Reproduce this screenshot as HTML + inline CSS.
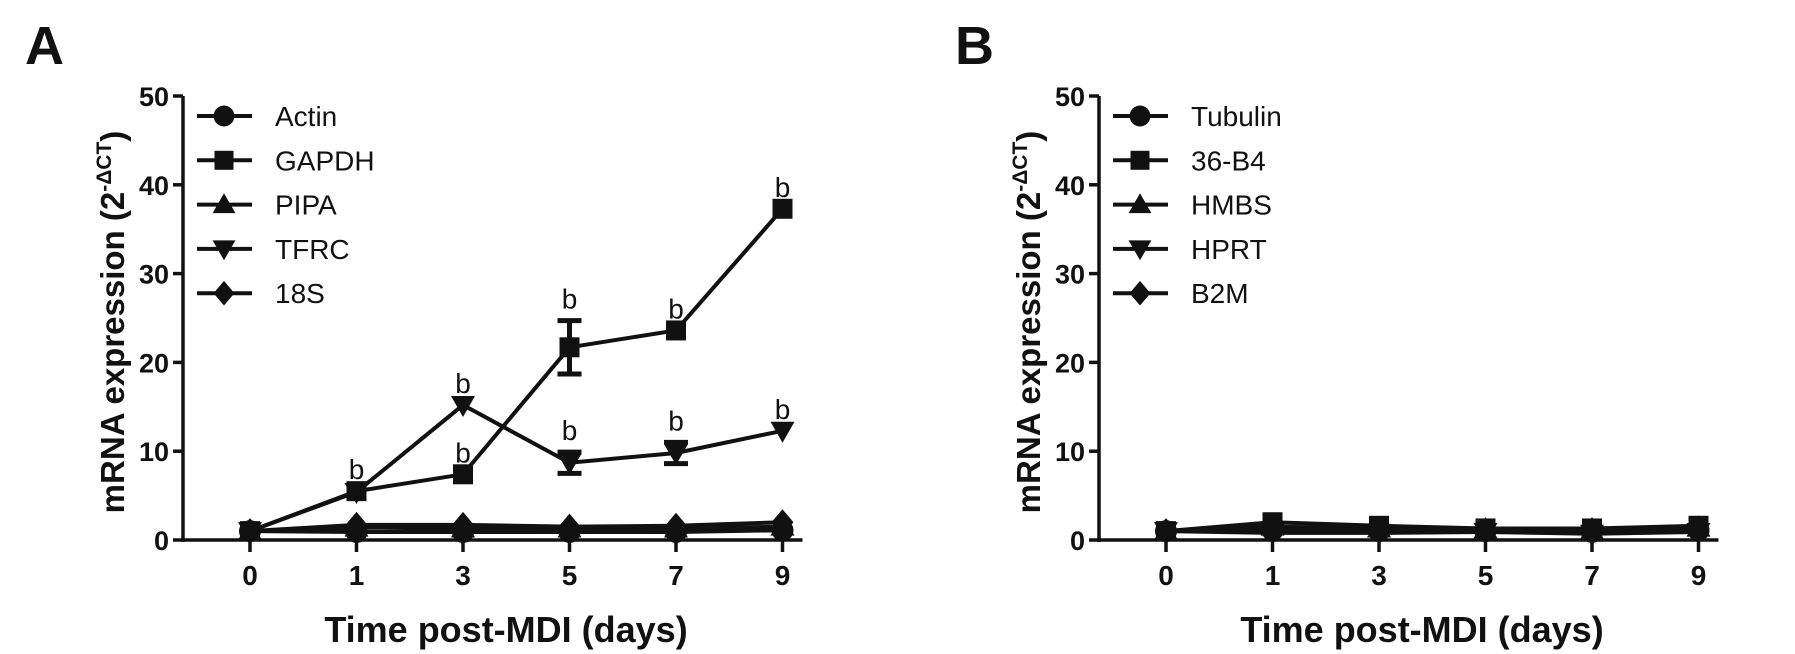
<!DOCTYPE html>
<html><head><meta charset="utf-8"><style>
body{margin:0;background:#fff}
svg{display:block;font-family:"Liberation Sans Narrow","Liberation Sans",Arial,sans-serif}
</style></head><body>
<svg id="fig" width="1795" height="654" viewBox="0 0 1795 654"></svg>
<script>
const days=[0,1,3,5,7,9];
const yTicks=[0,10,20,30,40,50];
const aNames=["Actin","GAPDH","PIPA","TFRC","18S"];
const aMarkers=["circle","square","triangle","down","diamond"];
const aActin=[1,0.9,0.9,0.9,0.9,1.1];
const aGapdh=[1,5.5,7.4,21.7,23.6,37.3];
const aGapdhErr=[0,0.3,0.3,3.0,0.5,0.5];
const aPipa=[1,1.4,1.3,1.3,1.3,1.5];
const aTfrc=[1,5.4,15.2,8.7,9.8,12.3];
const aTfrcErr=[0,0.2,0.3,1.2,1.2,0.4];
const a18s=[1,1.7,1.7,1.5,1.6,2.0];
const aGapdhSig=[0,1,1,1,1,1];
const aTfrcSig=[0,0,1,1,1,1];
const bNames=["Tubulin","36-B4","HMBS","HPRT","B2M"];
const bTubulin=[1,1.1,1.0,1.0,0.9,1.1];
const b36b4=[1,2.0,1.6,1.3,1.3,1.6];
const bHmbs=[1,1.5,1.3,1.2,1.1,1.4];
const bHprt=[1,0.8,0.8,0.9,0.7,0.9];
const bB2m=[1,1.2,1.2,1.1,1.1,1.3];

const NS="http://www.w3.org/2000/svg";
const svg=document.getElementById('fig');
function mk(tag,attrs,parent){const e=document.createElementNS(NS,tag);for(const k in attrs)e.setAttribute(k,attrs[k]);(parent||svg).appendChild(e);return e;}
function marker(g,type,x,y,s){
  let e;
  if(type==="circle")e=mk('circle',{cx:x,cy:y,r:s*0.55,fill:'#111'},g);
  else if(type==="square")e=mk('rect',{x:x-s/2,y:y-s/2,width:s,height:s,fill:'#111'},g);
  else if(type==="triangle")e=mk('polygon',{points:`${x},${y-s*0.6} ${x-s*0.6},${y+s*0.45} ${x+s*0.6},${y+s*0.45}`,fill:'#111'},g);
  else if(type==="down")e=mk('polygon',{points:`${x},${y+s*0.6} ${x-s*0.6},${y-s*0.45} ${x+s*0.6},${y-s*0.45}`,fill:'#111'},g);
  else e=mk('polygon',{points:`${x},${y-s*0.65} ${x+s*0.55},${y} ${x},${y+s*0.65} ${x-s*0.55},${y}`,fill:'#111'},g);
  return e;
}
function panel(off,letter,names,series,errs,sigs,lx){
  const x0=183+off, top=96, bot=540;
  const X=i=>250+off+i*106.5;
  const Y=v=>bot-(v/50)*(bot-top);
  const g=mk('g',{});
  
  
  const L=mk('text',{x:lx,y:64,'font-size':54,'font-weight':'bold',fill:'#111'},g);L.textContent=letter;
  
  const ya=mk('line',{x1:x0,y1:top,x2:x0,y2:bot+2,stroke:'#111','stroke-width':3.5},g);
  
  const xa=mk('line',{x1:x0-2,y1:bot,x2:X(5)+20,y2:bot,stroke:'#111','stroke-width':3.5},g);
  
  yTicks.forEach(t=>{
    mk('line',{x1:x0-10,y1:Y(t),x2:x0,y2:Y(t),stroke:'#111','stroke-width':3.5},g);
    const tx=mk('text',{x:x0-14,y:Y(t)+10,'font-size':27,'font-weight':'bold','text-anchor':'end',fill:'#111'},g);
    tx.textContent=t;
  });
  days.forEach((d,i)=>{
    mk('line',{x1:X(i),y1:bot,x2:X(i),y2:bot+12,stroke:'#111','stroke-width':3.5},g);
    const tx=mk('text',{x:X(i),y:585,'font-size':28,'font-weight':'bold','text-anchor':'middle',fill:'#111'},g);
    tx.textContent=d;
  });
  const xt=mk('text',{x:506+off,y:642,'font-size':36,'font-weight':'bold','text-anchor':'middle',fill:'#111'},g);
  xt.textContent='Time post-MDI (days)';
  const yt=mk('text',{transform:`translate(${124+off},322) rotate(-90)`,'font-size':33,'font-weight':'bold','text-anchor':'middle',fill:'#111'},g);
  
  yt.appendChild(document.createTextNode('mRNA expression  (2'));
  const sup=mk('tspan',{dy:-13,'font-size':21},yt);sup.textContent='-ΔCT';
  const cl=mk('tspan',{dy:13},yt);cl.textContent=')';
  series.forEach((s,k)=>{
    const sg=mk('g',{},g);
    
    
    mk('polyline',{points:s.map((v,i)=>X(i)+','+Y(v)).join(' '),fill:'none',stroke:'#111','stroke-width':4},sg);
    if(errs[k])errs[k].forEach((e,i)=>{if(e>0.6){
      mk('line',{x1:X(i),y1:Y(s[i]+e),x2:X(i),y2:Y(s[i]-e),stroke:'#111','stroke-width':5},sg);
      mk('line',{x1:X(i)-12,y1:Y(s[i]+e),x2:X(i)+12,y2:Y(s[i]+e),stroke:'#111','stroke-width':5},sg);
      mk('line',{x1:X(i)-12,y1:Y(s[i]-e),x2:X(i)+12,y2:Y(s[i]-e),stroke:'#111','stroke-width':5},sg);}});
    s.forEach((v,i)=>{const m=marker(sg,aMarkers[k],X(i),Y(v),20);
      });
    if(sigs[k])sigs[k].forEach((f,i)=>{if(f){
      const e=(errs[k]&&errs[k][i]>0.6)?errs[k][i]:0;
      const b=mk('text',{x:X(i),y:Y(s[i]+e)-12,'font-size':28,'text-anchor':'middle',fill:'#111'},sg);
      b.textContent='b';}});
    const ly=116+k*44.3;
    const lg=mk('g',{},g);
    
    
    mk('line',{x1:197+off,y1:ly,x2:252+off,y2:ly,stroke:'#111','stroke-width':4},lg);
    marker(lg,aMarkers[k],224+off,ly,19);
    const lt=mk('text',{x:275+off,y:ly+10,'font-size':28,fill:'#111'},lg);lt.textContent=names[k];
  });
}
panel(0,'A',aNames,[aActin,aGapdh,aPipa,aTfrc,a18s],[null,aGapdhErr,null,aTfrcErr,null],[null,aGapdhSig,null,aTfrcSig,null],25);
panel(916,'B',bNames,[bTubulin,b36b4,bHmbs,bHprt,bB2m],[null,null,null,null,null],[null,null,null,null,null],955);
</script>
</body></html>
